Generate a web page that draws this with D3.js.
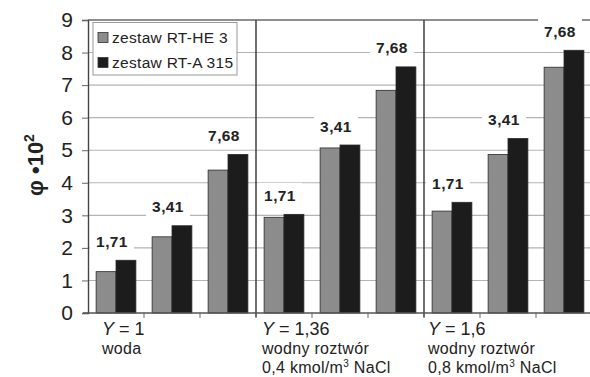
<!DOCTYPE html>
<html>
<head>
<meta charset="utf-8">
<script src="https://cdn.jsdelivr.net/npm/d3@7"></script>
<style>
  html, body { margin: 0; padding: 0; background: #fff; }
  svg { display: block; font-family: "Liberation Sans", Arial, sans-serif; }
</style>
</head>
<body>
<svg id="chart" width="590" height="377"></svg>
<script>
// ---- data ----
const groups = ["Y = 1", "Y = 1,36", "Y = 1,6"];
const groupY = ["1", "1,36", "1,6"];
const groupLine2 = ["woda", "wodny roztwór", "wodny roztwór"];
const groupLine3 = ["", "0,4 kmol/m", "0,8 kmol/m"];
const categories = ["1,71", "3,41", "7,68"];
const seriesNames = ["zestaw RT-HE 3", "zestaw RT-A 315"];
const rtHE3 = [1.27, 2.34, 4.39, 2.94, 5.07, 6.84, 3.13, 4.87, 7.55];
const rtA315 = [1.62, 2.68, 4.87, 3.03, 5.16, 7.56, 3.40, 5.36, 8.07];
const yTicks = [0, 1, 2, 3, 4, 5, 6, 7, 8, 9];

// ---- layout ----
const svg = d3.select("#chart");
const pLeft = 88, pRight = 592, pTop = 20, pBottom = 313;
const colors = ["#8c8c8c", "#1c1c1c"];

const keys = [];
groups.forEach((g, gi) => categories.forEach((c, ci) => keys.push(gi + "-" + ci)));

const x = d3.scaleBand().domain(keys).range([pLeft, pRight]).paddingInner(0).paddingOuter(0);
const xs = d3.scaleBand().domain([0, 1]).range([0, x.bandwidth()]).paddingInner(0).paddingOuter(0.31 / 0.38 * 0.5);
const gx = d3.scaleBand().domain(groups).range([pLeft, pRight]);
const y = d3.scaleLinear().domain([0, 9]).range([pBottom, pTop]);

// gridlines
svg.append("g").selectAll("line").data(yTicks.filter(t => t > 0 && t < 9)).join("line")
  .attr("x1", pLeft).attr("x2", pRight)
  .attr("y1", d => y(d)).attr("y2", d => y(d))
  .attr("stroke", "#b4b4b4").attr("stroke-width", 1.1);

// top frame
svg.append("line").attr("x1", pLeft).attr("x2", pRight).attr("y1", y(9)).attr("y2", y(9))
  .attr("stroke", "#6a6a6a").attr("stroke-width", 1.6);

// y axis
const yAxis = d3.axisLeft(y).tickValues(yTicks).tickSize(6).tickPadding(9).tickFormat(d3.format("d"));
const ya = svg.append("g").attr("transform", `translate(${pLeft},0)`).call(yAxis);
ya.select(".domain").attr("stroke", "#444").attr("stroke-width", 1.4);
ya.selectAll(".tick line").attr("stroke", "#666");
ya.selectAll(".tick text").attr("font-size", 21).attr("fill", "#222")
  .attr("font-family", "'Liberation Sans', Arial, sans-serif");

// group separators
svg.append("g").selectAll("line").data(groups.slice(1)).join("line")
  .attr("x1", d => gx(d)).attr("x2", d => gx(d))
  .attr("y1", pTop).attr("y2", pBottom + 4)
  .attr("stroke", "#333").attr("stroke-width", 1.4);

// bars
const data = keys.map((k, i) => ({ k, vals: [rtHE3[i], rtA315[i]] }));
const bg = svg.append("g").selectAll("g").data(data).join("g")
  .attr("transform", d => `translate(${x(d.k)},0)`);
bg.selectAll("rect").data(d => d.vals.map((v, s) => ({ v, s }))).join("rect")
  .attr("x", d => xs(d.s)).attr("width", xs.bandwidth())
  .attr("y", d => y(d.v)).attr("height", d => y(0) - y(d.v))
  .attr("fill", d => colors[d.s]).attr("stroke", "#2a2a2a").attr("stroke-width", 0.8);

// x axis line and ticks
svg.append("line").attr("x1", pLeft - 5).attr("x2", pRight).attr("y1", pBottom).attr("y2", pBottom)
  .attr("stroke", "#555").attr("stroke-width", 1.4);
svg.append("g").selectAll("line").data(keys.slice(1)).join("line")
  .attr("x1", d => x(d)).attr("x2", d => x(d))
  .attr("y1", pBottom).attr("y2", pBottom + 5)
  .attr("stroke", "#666").attr("stroke-width", 1);

// value labels with white boxes
const lab = svg.append("g");
data.forEach((d, i) => {
  const ci = i % 3;
  const cx = x(d.k) + x.bandwidth() / 2 - 4;
  const base = y(Math.max(...d.vals)) - 13.5;
  lab.append("rect").attr("x", cx - 22).attr("y", base - 18).attr("width", 44).attr("height", 24)
    .attr("fill", "#fff");
  lab.append("text").attr("x", cx).attr("y", base).attr("text-anchor", "middle")
    .attr("font-size", 15.5).attr("font-weight", "bold").attr("fill", "#222")
    .attr("letter-spacing", 0.4)
    .text(categories[ci]);
});

// legend
const lg = svg.append("g");
lg.append("rect").attr("x", 93).attr("y", 22.5).attr("width", 144).attr("height", 52.5)
  .attr("fill", "#fff").attr("stroke", "#999").attr("stroke-width", 1);
seriesNames.forEach((n, i) => {
  const yy = 37.5 + i * 25;
  lg.append("rect").attr("x", 98).attr("y", yy - 5).attr("width", 10).attr("height", 10)
    .attr("fill", colors[i]).attr("stroke", "#333").attr("stroke-width", 0.8);
  lg.append("text").attr("x", 112).attr("y", yy + 5.5).attr("font-size", 15.5).attr("fill", "#222")
    .attr("letter-spacing", 0.3).text(n);
});

// category labels
const offs = [14, 6, 4];
groups.forEach((g, gi) => {
  const x0 = gx(g) + offs[gi];
  const t1 = svg.append("text").attr("x", x0).attr("y", 335).attr("font-size", 18).attr("fill", "#222");
  t1.append("tspan").attr("font-style", "italic").text("Y");
  t1.append("tspan").text(" = " + groupY[gi]);
  svg.append("text").attr("x", x0).attr("y", 354).attr("font-size", 16).attr("fill", "#222")
    .attr("letter-spacing", 0.3).text(groupLine2[gi]);
  if (groupLine3[gi]) {
    const t3 = svg.append("text").attr("x", x0).attr("y", 372.5).attr("font-size", 16).attr("fill", "#222")
      .attr("letter-spacing", 0.3);
    t3.append("tspan").text(groupLine3[gi]);
    t3.append("tspan").attr("font-size", 10).attr("dy", -6).text("3");
    t3.append("tspan").attr("dy", 6).text(" NaCl");
  }
});

// y axis title
const yt = svg.append("text").attr("transform", "translate(43,165) rotate(-90)")
  .attr("text-anchor", "middle").attr("font-size", 22).attr("font-weight", "bold").attr("fill", "#222");
yt.append("tspan").text("φ •10");
yt.append("tspan").attr("font-size", 14).attr("dy", -9).text("2");
</script>
</body>
</html>
